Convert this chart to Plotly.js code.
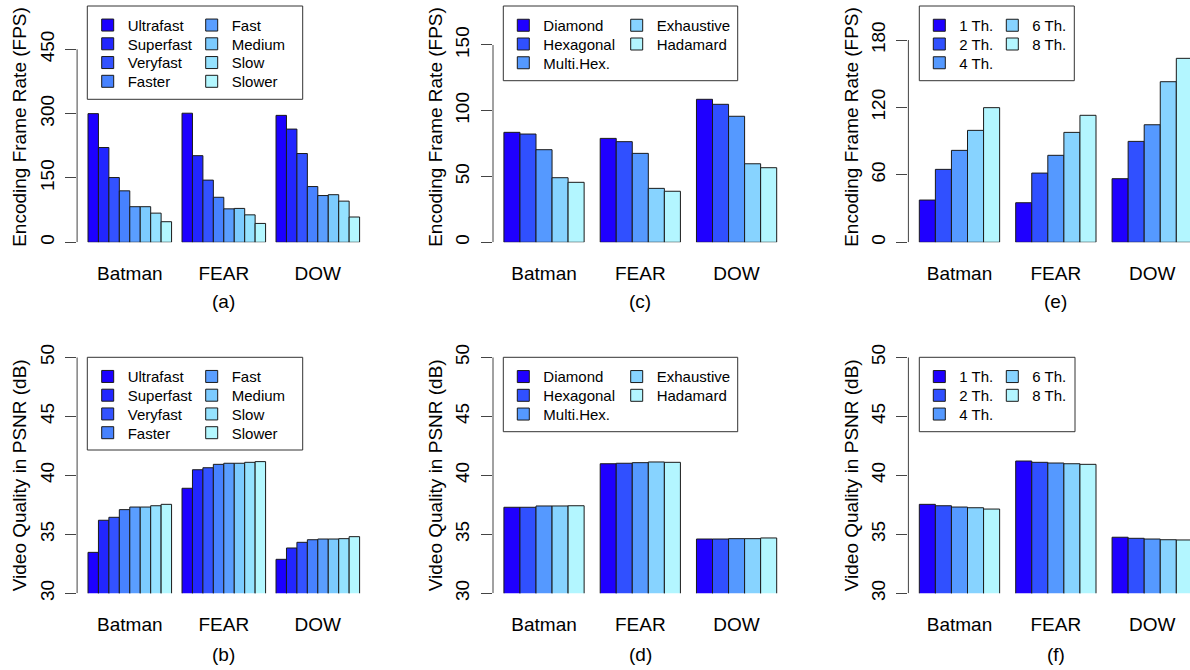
<!DOCTYPE html>
<html><head><meta charset="utf-8">
<script src="https://cdn.plot.ly/plotly-3.0.1.min.js"></script>
<style>html,body{margin:0;padding:0;background:#fff;overflow:hidden}#chart{width:1190px;height:670px}</style>
</head><body><div id="chart"></div>
<script>
// ---- data ----
const games = ['Batman', 'FEAR', 'DOW'];
const presetNames = ['Ultrafast', 'Superfast', 'Veryfast', 'Faster', 'Fast', 'Medium', 'Slow', 'Slower'];
const searchNames = ['Diamond', 'Hexagonal', 'Multi.Hex.', 'Exhaustive', 'Hadamard'];
const threadNames = ['1 Th.', '2 Th.', '4 Th.', '6 Th.', '8 Th.'];

// values per series, in the order [Batman, FEAR, DOW]
const presetFps = [[300, 301, 296], [221, 202, 264], [151, 145, 207], [120, 105, 130], [83, 78, 109], [83, 79, 111], [68, 64, 96], [48, 44, 59]];
const searchFps = [[83.6, 79, 108.7], [82.3, 76.5, 104.9], [70.4, 67.6, 95.8], [49.1, 41, 59.7], [45.6, 38.8, 56.7]];
const threadFps = [[37.6, 35.2, 56.6], [64.9, 61.6, 89.8], [81.8, 77.4, 104.6], [99.6, 97.8, 142.9], [119.8, 113, 163.7]];
const presetPsnr = [[33.47, 38.9, 32.88], [36.19, 40.47, 33.84], [36.44, 40.64, 34.32], [37.09, 40.93, 34.54], [37.31, 41.02, 34.6], [37.31, 41.02, 34.6], [37.42, 41.1, 34.63], [37.54, 41.16, 34.8]];
const searchPsnr = [[37.29, 40.98, 34.6], [37.29, 41.02, 34.6], [37.4, 41.07, 34.63], [37.4, 41.13, 34.63], [37.42, 41.1, 34.69]];
const threadPsnr = [[37.54, 41.21, 34.75], [37.42, 41.1, 34.66], [37.31, 41.04, 34.6], [37.25, 40.98, 34.54], [37.14, 40.93, 34.52]];

const fpsTicksA = [0, 150, 300, 450];
const fpsTicksC = [0, 50, 100, 150];
const fpsTicksE = [0, 60, 120, 180];
const psnrTicks = [30, 35, 40, 45, 50];

// ---- styles ----
const colors8 = ['#1C00FF', '#2226FF', '#3352FF', '#4782FF', '#5A9EFF', '#7CCBFF', '#95E2FF', '#B3F7FF'];
const colors5 = ['#1F00FF', '#3050FF', '#5599FF', '#87D3FF', '#B3F6FF'];
const FONT = 'Liberation Sans, Arial, Helvetica, sans-serif';
const W = 1190, H = 670;
const px = v => v / W;
const py = v => 1 - v / H;

const panels = [
  {names: presetNames, vals: presetFps, colors: colors8, xdom: [77.1, 370.5], xr: [-0.5604, 2.5604], ydom: [242.3, 11.7], yr: [0, 537.7], ticks: fpsTicksA, ytitle: 'Encoding Frame Rate (FPS)', sub: '(a)', subx: 223.8, suby: 301, lx: [87.7, 191.7], ly: 25.3, box: [87.3, 6, 302.7, 99.3]},
  {names: searchNames, vals: searchFps, colors: colors5, xdom: [493, 787.6], xr: [-0.53, 2.53], ydom: [242.3, 11.7], yr: [0, 175.3], ticks: fpsTicksC, ytitle: 'Encoding Frame Rate (FPS)', sub: '(c)', subx: 640.3, suby: 301, lx: [503.3, 616.7], ly: 25.5, box: [503.3, 6, 737.7, 80.7]},
  {names: threadNames, vals: threadFps, colors: colors5, xdom: [908.4, 1190], xr: [-0.53, 2.392], ydom: [242.3, 11.7], yr: [0, 205.2], ticks: fpsTicksE, ytitle: 'Encoding Frame Rate (FPS)', sub: '(e)', subx: 1055.7, suby: 301, lx: [919.3, 992.3], ly: 25.5, box: [919.3, 6, 1074.3, 80.7]},
  {names: presetNames, vals: presetPsnr, colors: colors8, xdom: [77.1, 370.5], xr: [-0.5604, 2.5604], ydom: [593.3, 357.3], yr: [30, 50], ticks: psnrTicks, ytitle: 'Video Quality in PSNR (dB)', sub: '(b)', subx: 223.8, suby: 654, lx: [87.7, 191.7], ly: 376.7, box: [87.3, 357.3, 302.7, 450]},
  {names: searchNames, vals: searchPsnr, colors: colors5, xdom: [493, 787.6], xr: [-0.53, 2.53], ydom: [593.3, 357.3], yr: [30, 50], ticks: psnrTicks, ytitle: 'Video Quality in PSNR (dB)', sub: '(d)', subx: 640.3, suby: 654, lx: [503.3, 616.7], ly: 376.8, box: [503.3, 357.3, 737.7, 431.7]},
  {names: threadNames, vals: threadPsnr, colors: colors5, xdom: [908.4, 1190], xr: [-0.53, 2.392], ydom: [593.3, 357.3], yr: [30, 50], ticks: psnrTicks, ytitle: 'Video Quality in PSNR (dB)', sub: '(f)', subx: 1055.7, suby: 654, lx: [919.3, 992.3], ly: 376.8, box: [919.3, 357.3, 1075, 431.7]}
];

const traces = [];
const layout = {
  width: W, height: H, margin: {l: 0, r: 0, t: 0, b: 0},
  paper_bgcolor: '#fff', plot_bgcolor: 'rgba(0,0,0,0)',
  font: {family: FONT, color: '#000', size: 19},
  barmode: 'overlay', showlegend: true, hovermode: false,
  shapes: [], annotations: []
};
let legCount = 0;
const ROWSTEP = 18.75;

panels.forEach((p, k) => {
  const s = k === 0 ? '' : String(k + 1);
  const n = p.names.length;
  const rows = Math.ceil(n / 2);
  const unit = 1 / (n + 1);
  layout['xaxis' + s] = {
    domain: [px(p.xdom[0]), px(p.xdom[1])], range: p.xr, type: 'category',
    anchor: 'y' + s, showline: false, showgrid: false, zeroline: false, ticks: '',
    tickfont: {family: FONT, size: 19, color: '#000'}, ticklabelstandoff: 18, fixedrange: true
  };
  layout['yaxis' + s] = {
    domain: [py(p.ydom[0]), py(p.ydom[1])], range: p.yr, anchor: 'x' + s,
    showline: false, showgrid: false, zeroline: false,
    ticks: 'outside', ticklen: 11, tickwidth: 1, tickcolor: '#444',
    tickvals: p.ticks, tickangle: -90, ticklabelstandoff: 4,
    tickfont: {family: FONT, size: 19, color: '#000'},
    title: {text: p.ytitle, font: {family: FONT, size: 19, color: '#000'}, standoff: 4},
    fixedrange: true
  };
  // axis line spanning first to last tick
  layout.shapes.push({type: 'line', xref: 'x' + s + ' domain', yref: 'y' + s, x0: 0, x1: 0,
    y0: p.ticks[0], y1: p.ticks[p.ticks.length - 1], line: {color: '#444', width: 1}});
  // legend box
  layout.shapes.push({type: 'rect', xref: 'paper', yref: 'paper', x0: px(p.box[0]), x1: px(p.box[2]),
    y0: py(p.box[3]), y1: py(p.box[1]), line: {color: '#333', width: 1}, fillcolor: 'rgba(0,0,0,0)'});
  // sub-label
  layout.annotations.push({xref: 'paper', yref: 'paper', x: px(p.subx), y: py(p.suby), text: p.sub,
    showarrow: false, xanchor: 'center', yanchor: 'middle', font: {family: FONT, size: 19, color: '#000'}});

  p.names.forEach((name, i) => {
    legCount += 1;
    const legId = legCount === 1 ? 'legend' : 'legend' + legCount;
    const col = Math.floor(i / rows), row = i % rows;
    layout[legId] = {
      x: px(p.lx[col]), xanchor: 'left', y: py(p.ly + row * ROWSTEP), yanchor: 'middle',
      bgcolor: 'rgba(0,0,0,0)', borderwidth: 0, font: {family: FONT, size: 15, color: '#000'}
    };
    traces.push({
      type: 'bar', x: games, y: p.vals[i], name: name,
      xaxis: 'x' + s, yaxis: 'y' + s,
      width: unit, offset: -n * unit / 2 + i * unit,
      marker: {color: p.colors[i], line: {color: '#1a1a1a', width: 1}},
      legend: legId, showlegend: true, hoverinfo: 'skip'
    });
  });
});

Plotly.newPlot('chart', traces, layout, {displayModeBar: false, staticPlot: true});
</script>
</body></html>
